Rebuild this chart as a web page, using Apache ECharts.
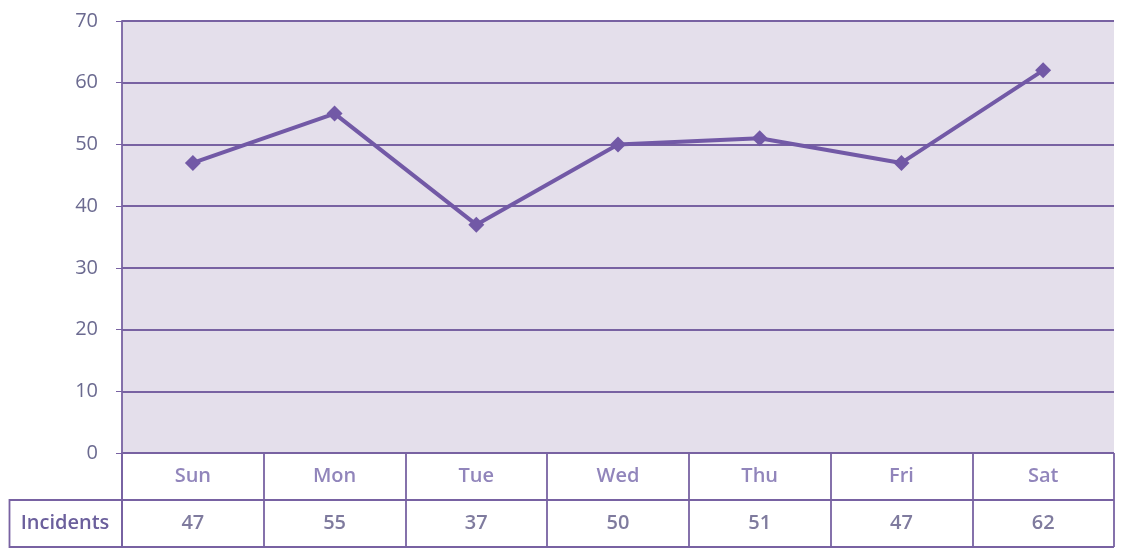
<!DOCTYPE html>
<html><head><meta charset="utf-8">
<script src="https://cdn.jsdelivr.net/npm/echarts@6/dist/echarts.min.js"></script>
<style>html,body{margin:0;padding:0;background:#fff}#c{width:1138px;height:554px}</style>
</head><body><div id="c"></div>
<script>
const categories = ['Sun','Mon','Tue','Wed','Thu','Fri','Sat'];
const incidents = [47,55,37,50,51,47,62];
const seriesName = 'Incidents';
const yTicks = {min:0, max:70, interval:10};

const gridColor = '#7862a2';
const font = 'Open Sans';
const chart = echarts.init(document.getElementById('c'), null, {renderer:'canvas'});
chart.setOption({
  backgroundColor:'#ffffff',
  animation:false,
  grid:[
    {left:122,right:24,top:21,height:432,show:true,backgroundColor:'#e4dfeb',borderWidth:0},
    {left:122,right:24,top:453,height:94,show:false}
  ],
  xAxis:[
    {gridIndex:0,type:'category',data:categories,boundaryGap:true,axisLine:{show:false},axisTick:{show:false},axisLabel:{show:false},splitLine:{show:false}},
    {gridIndex:1,type:'category',data:categories,boundaryGap:true,axisLine:{show:false},axisTick:{show:false},axisLabel:{show:false},
     splitLine:{show:true,lineStyle:{color:gridColor,width:1.8}}}
  ],
  yAxis:[
    {gridIndex:0,type:'value',min:yTicks.min,max:yTicks.max,interval:yTicks.interval,
     axisLine:{show:true,lineStyle:{color:gridColor,width:1.8}},
     axisTick:{show:true,length:6,lineStyle:{color:gridColor}},
     axisLabel:{color:'#6b6a90',fontFamily:font,fontSize:20,margin:24},
     splitLine:{show:true,lineStyle:{color:gridColor,width:1.8}}},
    {gridIndex:1,type:'value',min:0,max:2,interval:1,inverse:true,
     axisLine:{show:true,lineStyle:{color:gridColor,width:1.8}},axisTick:{show:false},axisLabel:{show:false},
     splitLine:{show:true,lineStyle:{color:gridColor,width:1.8}}}
  ],
  series:[
    {name:seriesName,type:'line',xAxisIndex:0,yAxisIndex:0,data:incidents,
     symbol:'diamond',symbolSize:16,lineStyle:{color:'#7259a6',width:4},
     itemStyle:{color:'#7259a6'}},
    {type:'scatter',xAxisIndex:1,yAxisIndex:1,symbolSize:0,silent:true,
     data:categories.map(c=>[c,0.5]),
     label:{show:true,position:'inside',formatter:p=>p.value[0],color:'#7566aa',fontFamily:font,fontSize:20,fontWeight:600}},
    {type:'scatter',xAxisIndex:1,yAxisIndex:1,symbolSize:0,silent:true,
     data:categories.map((c,i)=>[c,1.5,incidents[i]]),
     label:{show:true,position:'inside',formatter:p=>String(p.value[2]),color:'#5f5a86',fontFamily:font,fontSize:20,fontWeight:600}}
  ],
  graphic:[
    {type:'rect',shape:{x:9.5,y:500,width:112.5,height:47},style:{fill:'none',stroke:gridColor,lineWidth:1.8}},
    {type:'text',x:65,y:523,style:{text:seriesName,fill:'#6b5f9c',font:'600 20px "Open Sans"',textAlign:'center',textVerticalAlign:'middle'}}
  ]
});
</script></body></html>
